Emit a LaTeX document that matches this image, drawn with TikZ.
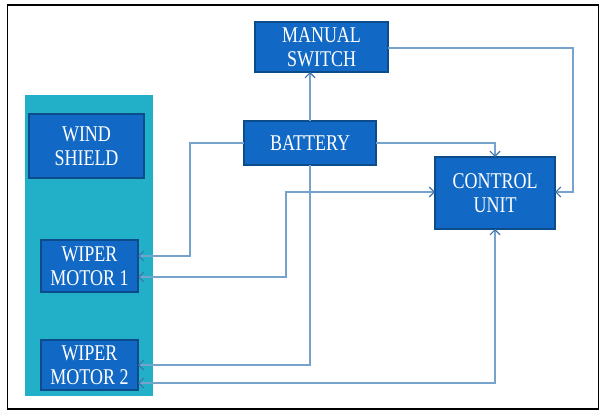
\documentclass[tikz,border=0pt]{standalone}
\usepackage{fontspec}
\setmainfont{Liberation Serif}
\usetikzlibrary{arrows.meta}
\definecolor{boxfill}{HTML}{1169C5}
\definecolor{boxline}{HTML}{0D4C8A}
\definecolor{panel}{HTML}{22B0C8}
\definecolor{wire}{HTML}{76A2CE}
\definecolor{wirehead}{HTML}{3F74AE}
\newcommand{\btxt}[1]{\scalebox{1}[1.25]{#1}}
\tikzset{
  blockbox/.style={draw=boxline, line width=1.4pt, fill=boxfill, inner sep=0pt, outer sep=0pt,
    text=white, align=center, font=\fontsize{18}{24}\selectfont},
  headtip/.tip={Straight Barb[length=5pt,width=10pt,line width=1.1pt,color=wirehead]},
  wireline/.style={draw=wire, line width=1.1pt, -headtip},
  wireboth/.style={draw=wire, line width=1.1pt, headtip-headtip}
}
\begin{document}
\begin{tikzpicture}[x=1pt,y=-1pt]
\useasboundingbox (0,0) rectangle (612,414);
\fill[white] (0,0) rectangle (612,414);
\fill[panel] (25,95) rectangle (153,396);
\node[blockbox, minimum width=115pt, minimum height=64pt] (wind) at (86.5,146) {\btxt{WIND}\\\btxt{SHIELD}};
\node[blockbox, minimum width=97pt, minimum height=52pt] (m1) at (89.5,266) {\btxt{WIPER}\\\btxt{MOTOR 1}};
\node[blockbox, minimum width=97pt, minimum height=50pt] (m2) at (89.5,365) {\btxt{WIPER}\\\btxt{MOTOR 2}};
\node[blockbox, minimum width=133pt, minimum height=50pt] (manual) at (321.5,47) {\btxt{MANUAL}\\\btxt{SWITCH}};
\node[blockbox, minimum width=132pt, minimum height=44pt] (battery) at (310,143) {\btxt{BATTERY}};
\node[blockbox, minimum width=120pt, minimum height=72pt] (control) at (495,193) {\btxt{CONTROL}\\\btxt{UNIT}};
\coordinate (m1a) at ([yshift=10pt]m1.east);
\coordinate (m1b) at ([yshift=-11pt]m1.east);
\coordinate (m2b) at ([yshift=-18pt]m2.east);
\coordinate (cw) at ([yshift=1pt]control.west);
\coordinate (ce) at ([yshift=1pt]control.east);
\coordinate (me) at ([yshift=-1pt]manual.east);
% battery -> manual switch
\draw[wireline] (battery.north) -- (battery.north |- manual.south);
% battery -> wiper motor 2
\draw[wireline] (battery.south) |- (m2.east);
% battery -> wiper motor 1
\draw[wireline] (battery.west) -- (190,143) |- (m1a);
% control <-> wiper motor 1
\draw[wireboth] (cw) -- (286,192) |- (m1b);
% battery -> control
\draw[wireline] (battery.east) -| (control.north);
% manual switch -> control
\draw[wireline] (me) -- (573,48) |- (ce);
% control <-> wiper motor 2
\draw[wireboth] (control.south) |- (m2b);
\draw[black, line width=1.3pt] (7.5,5) rectangle (598.5,409);
\end{tikzpicture}
\end{document}
